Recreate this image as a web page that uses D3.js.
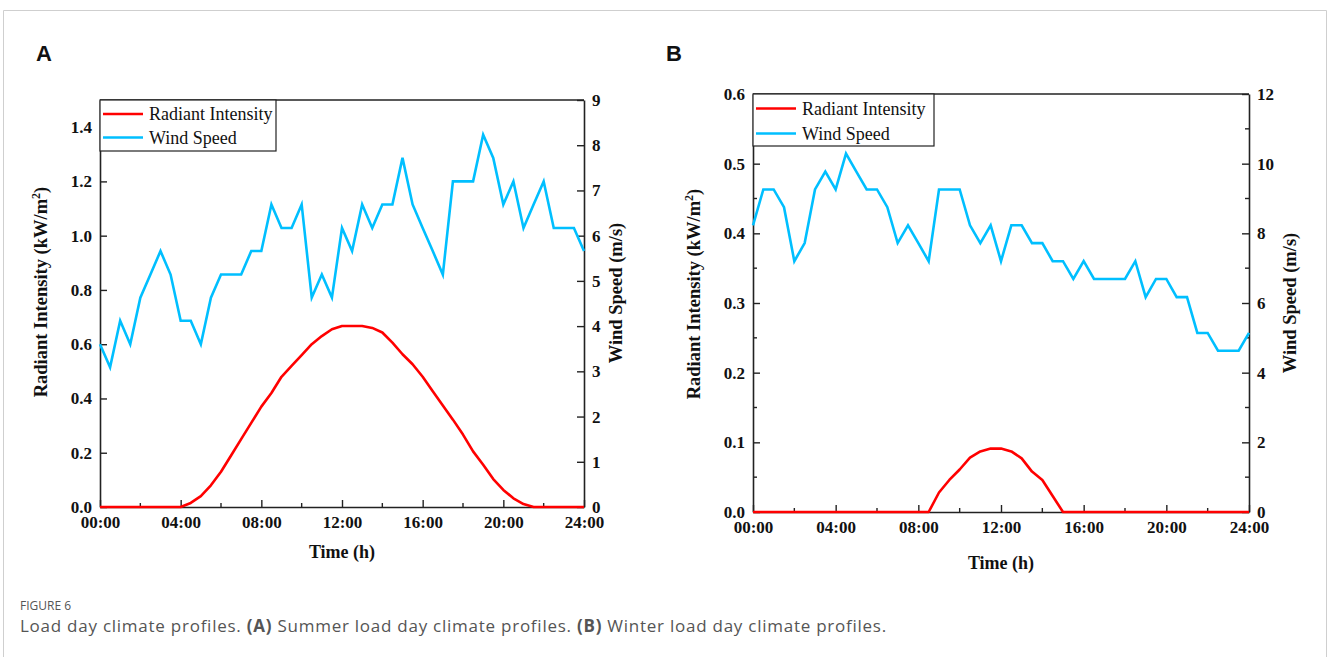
<!DOCTYPE html>
<html>
<head>
<meta charset="utf-8">
<script src="https://cdn.jsdelivr.net/npm/d3@7"></script>
<style>
  html, body { margin: 0; padding: 0; background: #fff; }
  svg { display: block; }
</style>
</head>
<body>
<svg id="chart" width="1327" height="657"></svg>
<script>
// ---------------- DATA ----------------
const hours = [0,0.5,1,1.5,2,2.5,3,3.5,4,4.5,5,5.5,6,6.5,7,7.5,8,8.5,9,9.5,10,10.5,11,11.5,12,
               12.5,13,13.5,14,14.5,15,15.5,16,16.5,17,17.5,18,18.5,19,19.5,20,20.5,21,21.5,22,22.5,23,23.5,24];

// Summer (A)
const summerRadiant = [0,0,0,0,0,0,0,0,0,0.015,0.04,0.08,0.13,0.19,0.25,0.31,0.37,0.42,0.48,0.52,0.56,0.60,0.63,0.655,0.667,
                       0.667,0.667,0.66,0.643,0.606,0.563,0.526,0.48,0.427,0.374,0.322,0.267,0.205,0.156,0.103,0.063,0.032,0.011,0,0,0,0,0,0];
const summerWind = [3.6,3.09,4.12,3.6,4.63,5.14,5.66,5.14,4.12,4.12,3.6,4.63,5.14,5.14,5.14,5.66,5.66,6.69,6.17,6.17,6.69,4.63,5.14,4.63,6.17,
                    5.66,6.69,6.17,6.69,6.69,7.72,6.69,6.17,5.66,5.14,7.2,7.2,7.2,8.23,7.72,6.69,7.2,6.17,6.69,7.2,6.17,6.17,6.17,5.66];

// Winter (B)
const winterRadiant = [0,0,0,0,0,0,0,0,0,0,0,0,0,0,0,0,0,0,0.028,0.046,0.061,0.078,0.087,0.091,0.091,
                       0.087,0.077,0.058,0.046,0.023,0,0,0,0,0,0,0,0,0,0,0,0,0,0,0,0,0,0,0];
const winterWind = [8.23,9.26,9.26,8.75,7.2,7.72,9.26,9.77,9.26,10.29,9.77,9.26,9.26,8.75,7.72,8.23,7.72,7.2,9.26,9.26,9.26,8.23,7.72,8.23,7.2,
                    8.23,8.23,7.72,7.72,7.2,7.2,6.69,7.2,6.69,6.69,6.69,6.69,7.2,6.17,6.69,6.69,6.17,6.17,5.14,5.14,4.63,4.63,4.63,5.14];

// Ticks
const xMajorTicks = [0,4,8,12,16,20,24];
const xMajorLabels = ["00:00","04:00","08:00","12:00","16:00","20:00","24:00"];
const xMinorTicks = [2,6,10,14,18,22];

const aLeftTicks = [0,0.2,0.4,0.6,0.8,1.0,1.2,1.4];
const aLeftLabels = ["0.0","0.2","0.4","0.6","0.8","1.0","1.2","1.4"];
const aRightTicks = [0,1,2,3,4,5,6,7,8,9];
const aRightLabels = ["0","1","2","3","4","5","6","7","8","9"];

const bLeftTicks = [0,0.1,0.2,0.3,0.4,0.5,0.6];
const bLeftLabels = ["0.0","0.1","0.2","0.3","0.4","0.5","0.6"];
const bLeftMinor = [0.05,0.15,0.25,0.35,0.45,0.55];
const bRightTicks = [0,2,4,6,8,10,12];
const bRightLabels = ["0","2","4","6","8","10","12"];
const bRightMinor = [1,3,5,7,9,11];

const seriesNames = ["Radiant Intensity", "Wind Speed"];
const seriesColors = ["#ff0000", "#00bfff"];

// ---------------- DRAW ----------------
const svg = d3.select("#chart");
const SERIF = "'Liberation Serif','Times New Roman',serif";

// Figure frame
svg.append("path")
  .attr("d", "M3.5,657 L3.5,10.5 L1326.5,10.5 L1326.5,657")
  .attr("fill", "none").attr("stroke", "#cfcfcf").attr("stroke-width", 1);

function drawPanel(cfg) {
  const g = svg.append("g");
  const x = d3.scaleLinear().domain([0, 24]).range([cfg.left, cfg.right]);
  const yL = d3.scaleLinear().domain(cfg.leftDomain).range([cfg.bottom, cfg.top]);
  const yR = d3.scaleLinear().domain(cfg.rightDomain).range([cfg.bottom, cfg.top]);
  const major = 7, minor = 4;
  const axisColor = "#222";

  // bottom axis
  const xAxis = d3.axisBottom(x).tickValues(xMajorTicks)
    .tickFormat((d, i) => xMajorLabels[i]).tickSizeInner(-major).tickSizeOuter(0).tickPadding(9);
  const gx = g.append("g").attr("transform", `translate(0,${cfg.bottom})`).call(xAxis);
  gx.append("g").selectAll("line").data(xMinorTicks).join("line")
    .attr("x1", d => x(d)).attr("x2", d => x(d)).attr("y1", 0).attr("y2", -minor);

  // left axis
  const yAxisL = d3.axisLeft(yL).tickValues(cfg.leftTicks)
    .tickFormat((d, i) => cfg.leftLabels[i]).tickSizeInner(-major).tickSizeOuter(0).tickPadding(8);
  const gl = g.append("g").attr("transform", `translate(${cfg.left},0)`).call(yAxisL);
  gl.append("g").selectAll("line").data(cfg.leftMinor || []).join("line")
    .attr("x1", 0).attr("x2", minor).attr("y1", d => yL(d)).attr("y2", d => yL(d));

  // right axis
  const yAxisR = d3.axisRight(yR).tickValues(cfg.rightTicks)
    .tickFormat((d, i) => cfg.rightLabels[i]).tickSizeInner(-major).tickSizeOuter(0).tickPadding(8);
  const gr = g.append("g").attr("transform", `translate(${cfg.right},0)`).call(yAxisR);
  gr.append("g").selectAll("line").data(cfg.rightMinor || []).join("line")
    .attr("x1", 0).attr("x2", -minor).attr("y1", d => yR(d)).attr("y2", d => yR(d));

  // top border
  g.append("line").attr("x1", cfg.left).attr("x2", cfg.right)
    .attr("y1", cfg.top).attr("y2", cfg.top);

  [gx, gl, gr].forEach(a => {
    a.selectAll("path.domain").attr("stroke", axisColor).attr("stroke-width", 1.6);
    a.selectAll("line").attr("stroke", axisColor).attr("stroke-width", 1.4);
    a.selectAll("text").attr("font-family", SERIF).attr("font-weight", "bold")
      .attr("font-size", 17).attr("fill", "#111");
  });
  g.selectAll(":scope > line").attr("stroke", axisColor).attr("stroke-width", 1.6);

  // lines
  const lineR = d3.line().x((d, i) => x(hours[i])).y(d => yL(d));
  const lineW = d3.line().x((d, i) => x(hours[i])).y(d => yR(d));
  g.append("path").datum(cfg.wind).attr("d", lineW)
    .attr("fill", "none").attr("stroke", seriesColors[1]).attr("stroke-width", 2.6)
    .attr("stroke-linejoin", "miter");
  g.append("path").datum(cfg.radiant).attr("d", lineR)
    .attr("fill", "none").attr("stroke", seriesColors[0]).attr("stroke-width", 2.6)
    .attr("stroke-linejoin", "round");

  // legend
  const lg = g.append("g").attr("transform", `translate(${cfg.left},${cfg.top})`);
  lg.append("rect").attr("x", 0).attr("y", 0).attr("width", cfg.legendW).attr("height", cfg.legendH)
    .attr("fill", "#fff").attr("stroke", "#222").attr("stroke-width", 1.2);
  seriesNames.forEach((name, i) => {
    const yy = cfg.legendRow0 + i * cfg.legendRowGap;
    lg.append("line").attr("x1", 3).attr("x2", 43).attr("y1", yy).attr("y2", yy)
      .attr("stroke", seriesColors[i]).attr("stroke-width", 2.6);
    lg.append("text").attr("x", 49).attr("y", yy).attr("dy", "0.35em")
      .attr("font-family", SERIF).attr("font-size", 18).attr("fill", "#111").text(name);
  });

  // axis titles
  const t1 = g.append("text")
    .attr("transform", `translate(${cfg.leftTitleX},${cfg.leftTitleY}) rotate(-90)`)
    .attr("text-anchor", "middle").attr("font-family", SERIF).attr("font-weight", "bold")
    .attr("font-size", 18.5).attr("fill", "#111");
  t1.append("tspan").text("Radiant Intensity (kW/m");
  t1.append("tspan").attr("dy", -7).attr("font-size", 12).text("2");
  t1.append("tspan").attr("dy", 7).text(")");

  g.append("text")
    .attr("transform", `translate(${cfg.rightTitleX},${cfg.rightTitleY}) rotate(-90)`)
    .attr("text-anchor", "middle").attr("font-family", SERIF).attr("font-weight", "bold")
    .attr("font-size", 18.5).attr("fill", "#111").text("Wind Speed (m/s)");

  g.append("text").attr("x", (cfg.left + cfg.right) / 2).attr("y", cfg.timeY)
    .attr("text-anchor", "middle").attr("font-family", SERIF).attr("font-weight", "bold")
    .attr("font-size", 18).attr("fill", "#111").text("Time (h)");

  // panel letter
  svg.append("text").attr("x", cfg.letterX).attr("y", 61)
    .attr("font-family", "'Liberation Sans',Arial,sans-serif").attr("font-weight", "bold")
    .attr("font-size", 22).attr("fill", "#111").text(cfg.letter);
}

drawPanel({
  letter: "A", letterX: 36,
  left: 100, right: 584, top: 100, bottom: 507,
  leftDomain: [0, 1.5], rightDomain: [0, 9],
  leftTicks: aLeftTicks, leftLabels: aLeftLabels,
  rightTicks: aRightTicks, rightLabels: aRightLabels,
  radiant: summerRadiant, wind: summerWind,
  legendW: 176, legendH: 51, legendRow0: 14, legendRowGap: 23.5,
  leftTitleX: 47, leftTitleY: 292, rightTitleX: 622, rightTitleY: 293, timeY: 558
});

drawPanel({
  letter: "B", letterX: 666,
  left: 753, right: 1249, top: 94, bottom: 512,
  leftDomain: [0, 0.6], rightDomain: [0, 12],
  leftTicks: bLeftTicks, leftLabels: bLeftLabels, leftMinor: bLeftMinor,
  rightTicks: bRightTicks, rightLabels: bRightLabels, rightMinor: bRightMinor,
  radiant: winterRadiant, wind: winterWind,
  legendW: 181, legendH: 52, legendRow0: 14.5, legendRowGap: 25,
  leftTitleX: 700, leftTitleY: 294, rightTitleX: 1296, rightTitleY: 303, timeY: 569
});

// caption
svg.append("text").attr("x", 20).attr("y", 610)
  .attr("font-family", "'Open Sans','Noto Sans',sans-serif").attr("font-size", 12)
  .attr("fill", "#555").text("FIGURE 6");
const cap = svg.append("text").attr("x", 20).attr("y", 632)
  .attr("font-family", "'Open Sans','Noto Sans',sans-serif").attr("font-size", 17)
  .attr("letter-spacing", 0.75).attr("fill", "#555");
cap.append("tspan").text("Load day climate profiles. ");
cap.append("tspan").attr("font-weight", "bold").text("(A)");
cap.append("tspan").text(" Summer load day climate profiles. ");
cap.append("tspan").attr("font-weight", "bold").text("(B)");
cap.append("tspan").text(" Winter load day climate profiles.");
</script>
</body>
</html>
